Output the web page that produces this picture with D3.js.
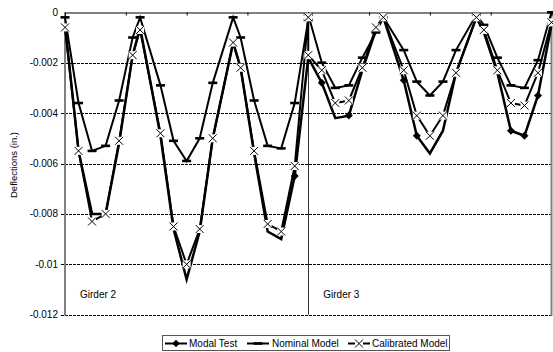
<!DOCTYPE html>
<html>
<head>
<meta charset="utf-8">
<script src="https://cdn.jsdelivr.net/npm/d3@7"></script>
<style>
  body { margin: 0; background: #fff; }
  text { font-family: Arial, "Liberation Sans", sans-serif; font-size: 10px; fill: #000; }
</style>
</head>
<body>
<svg id="chart" width="553" height="352"></svg>
<script>
// station positions along one girder (same for both girders)
const stations = [0, 4.45, 8.9, 13.35, 17.8, 22.25, 24.7, 31.4, 35.7, 40, 44.3, 48.6, 55.3, 57.75, 62.2, 66.65, 71.1, 75.55, 80];
const girderNames = ["Girder 2", "Girder 3"];
const girderOffsets = [0, 80];
const yTicks = [0, -0.002, -0.004, -0.006, -0.008, -0.01, -0.012];
const xTicks = [0, 20, 40, 60, 80, 100, 120, 140, 160];
const seriesNames = ["Modal Test", "Nominal Model", "Calibrated Model"];

const modalG2 = [-0.0005, -0.0055, -0.0080, -0.0080, -0.0052, -0.0017, -0.0006, -0.0049, -0.0086, -0.0106, -0.0087, -0.0050, -0.0012, -0.0022, -0.0056, -0.0087, -0.0090, -0.0065, -0.0018];
const modalG3 = [-0.0018, -0.0028, -0.0042, -0.0041, -0.0023, -0.0007, -0.0002, -0.0027, -0.0049, -0.0056, -0.0047, -0.0024, -0.0002, -0.0008, -0.0024, -0.0047, -0.0049, -0.0033, -0.0005];
// stations where the modal test shows a diamond
const modalMarkedG2 = [17];
const modalMarkedG3 = [1, 3, 7, 8, 15, 16, 17];

const nominalG2 = [-0.0002, -0.0036, -0.0055, -0.0053, -0.0035, -0.0010, -0.0002, -0.0029, -0.0051, -0.0059, -0.0050, -0.0028, -0.0002, -0.0010, -0.0035, -0.0053, -0.0054, -0.0036, -0.0003];
const nominalG3 = [-0.0001, -0.0020, -0.0030, -0.0029, -0.0018, -0.0008, -0.0002, -0.0015, -0.00275, -0.0033, -0.00275, -0.0015, -0.0001, -0.0005, -0.0018, -0.0029, -0.0030, -0.0019, 0];

const calibratedG2 = [-0.0006, -0.0055, -0.0083, -0.0080, -0.0051, -0.0017, -0.0007, -0.0048, -0.0085, -0.0100, -0.0086, -0.0050, -0.0012, -0.0022, -0.0055, -0.0084, -0.0087, -0.0061, -0.0002];
const calibratedG3 = [-0.0017, -0.0023, -0.0036, -0.0035, -0.0022, -0.0006, -0.0002, -0.0023, -0.0041, -0.0049, -0.0041, -0.0024, -0.0002, -0.0007, -0.0023, -0.0036, -0.0037, -0.0024, -0.0004];

const svg = d3.select("#chart");
const plotLeft = 65, plotRight = 551.5, plotTop = 12.3, plotBottom = 314.7;

const x = d3.scaleLinear().domain([0, 160]).range([plotLeft, plotRight]);
const y = d3.scaleLinear().domain([-0.012, 0]).range([plotBottom, plotTop]);

function toPoints(g2, g3) {
    return [g2, g3].flatMap((vals, g) => stations.map((s, i) => ({ x: s + girderOffsets[g], y: vals[i], g: g, i: i })));
}
const modal = toPoints(modalG2, modalG3);
const nominal = toPoints(nominalG2, nominalG3);
const calibrated = toPoints(calibratedG2, calibratedG3);

svg.append("rect").attr("width", 553).attr("height", 352).attr("fill", "#fff");

// gridlines
svg.append("g")
    .selectAll("line").data(yTicks.slice(1)).join("line")
    .attr("x1", plotLeft - 4).attr("x2", plotRight)
    .attr("y1", d => Math.round(y(d)) + 0.5).attr("y2", d => Math.round(y(d)) + 0.5)
    .attr("stroke", "#000").attr("stroke-dasharray", "3,1");

// y tick labels
svg.append("g")
    .selectAll("text").data(yTicks).join("text")
    .attr("x", 58).attr("y", d => y(d) + 3.5)
    .attr("text-anchor", "end")
    .text(d => d === 0 ? "0" : String(+d.toFixed(3)));

// girder separator
svg.append("line")
    .attr("x1", Math.round(x(80)) + 0.5).attr("x2", Math.round(x(80)) + 0.5)
    .attr("y1", plotTop).attr("y2", plotBottom)
    .attr("stroke", "#333").attr("stroke-width", 1);

// plot border (left and right gray)
svg.append("line").attr("x1", plotLeft).attr("x2", plotLeft).attr("y1", plotTop).attr("y2", plotBottom + 1)
    .attr("stroke", "#808080").attr("stroke-width", 2);
svg.append("line").attr("x1", plotRight).attr("x2", plotRight).attr("y1", plotTop).attr("y2", plotBottom + 1)
    .attr("stroke", "#808080").attr("stroke-width", 2);

// x axis at zero (top), ticks without labels
const xAxis = svg.append("g")
    .attr("transform", `translate(0,${Math.round(y(0)) + 0.5})`)
    .call(d3.axisBottom(x).tickValues(xTicks).tickSize(3).tickFormat(""));
xAxis.select(".domain").attr("stroke", "#000");
xAxis.selectAll(".tick line").attr("stroke", "#000");

// girder labels
svg.append("g")
    .selectAll("text").data(girderNames).join("text")
    .attr("x", (d, i) => x(girderOffsets[i]) + 15)
    .attr("y", 297.5)
    .text(d => d);

// axis title
svg.append("text")
    .attr("transform", "translate(17,165) rotate(-90)")
    .attr("text-anchor", "middle")
    .style("font-size", "9.5px")
    .text("Deflections (in.)");

const line = d3.line().x(d => x(d.x)).y(d => y(d.y));

// series lines and markers
const diamond = { draw(ctx, size) { const r = Math.sqrt(size) / 2; ctx.moveTo(0, -r); ctx.lineTo(r, 0); ctx.lineTo(0, r); ctx.lineTo(-r, 0); ctx.closePath(); } };

svg.append("path").datum(modal).attr("d", line)
    .attr("fill", "none").attr("stroke", "#000").attr("stroke-width", 2.5);
svg.append("g").selectAll("path")
    .data(modal.filter(d => (d.g === 0 ? modalMarkedG2 : modalMarkedG3).includes(d.i)))
    .join("path")
    .attr("transform", d => `translate(${x(d.x)},${y(d.y)})`)
    .attr("d", d3.symbol(diamond, 64))
    .attr("fill", "#000");

svg.append("path").datum(nominal).attr("d", line)
    .attr("fill", "none").attr("stroke", "#000").attr("stroke-width", 2);
svg.append("g").selectAll("rect").data(nominal).join("rect")
    .attr("x", d => x(d.x) - 4.5).attr("y", d => y(d.y) - 1.3)
    .attr("width", 9).attr("height", 2.6).attr("fill", "#000");

svg.append("path").datum(calibrated).attr("d", line)
    .attr("fill", "none").attr("stroke", "#000").attr("stroke-width", 2);
const xm = svg.append("g").selectAll("g").data(calibrated).join("g")
    .attr("transform", d => `translate(${x(d.x)},${y(d.y)})`);
xm.append("rect").attr("x", -4).attr("y", -4).attr("width", 8).attr("height", 8).attr("fill", "#fff");
xm.append("path").attr("d", "M-4,-4L4,4M-4,4L4,-4").attr("stroke", "#000").attr("stroke-width", 1);

// legend
const lg = svg.append("g");
lg.append("rect").attr("x", 162.5).attr("y", 335.5).attr("width", 287).attr("height", 15)
    .attr("fill", "#fff").attr("stroke", "#555").attr("stroke-width", 1);
const legendX = [165, 247, 348];
const legendTextX = [189, 272, 372];
seriesNames.forEach((name, k) => {
    const cy = 343.5;
    lg.append("line").attr("x1", legendX[k]).attr("x2", legendX[k] + 22)
        .attr("y1", cy).attr("y2", cy).attr("stroke", "#000").attr("stroke-width", 2);
    const cx = legendX[k] + 11;
    if (k === 0) {
        lg.append("path").attr("transform", `translate(${cx},${cy})`).attr("d", d3.symbol(diamond, 56)).attr("fill", "#000");
    } else if (k === 1) {
        lg.append("rect").attr("x", cx - 4.5).attr("y", cy - 1.3).attr("width", 9).attr("height", 2.6).attr("fill", "#000");
    } else {
        lg.append("rect").attr("x", cx - 4).attr("y", cy - 4).attr("width", 8).attr("height", 8).attr("fill", "#fff");
        lg.append("path").attr("transform", `translate(${cx},${cy})`).attr("d", "M-4,-4L4,4M-4,4L4,-4").attr("stroke", "#000");
    }
    lg.append("text").attr("x", legendTextX[k]).attr("y", cy + 3.5).text(name);
});
</script>
</body>
</html>
